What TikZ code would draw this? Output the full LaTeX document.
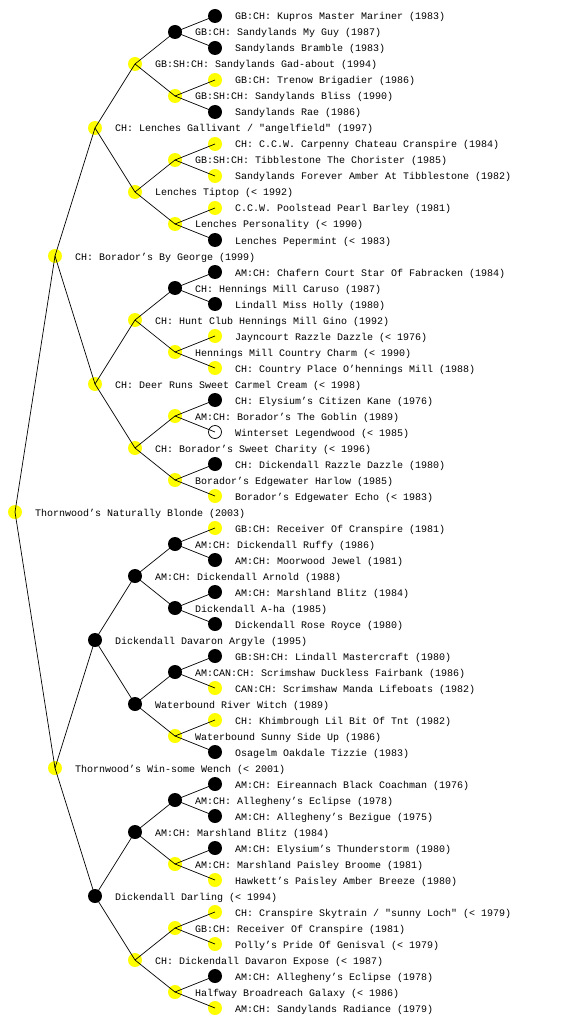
\documentclass[tikz,border=0pt]{standalone}
\usepackage{fontspec}
\setmonofont{Liberation Mono}
\definecolor{pyellow}{RGB}{255,255,0}
\tikzset{
  yn/.style={circle,fill=pyellow,minimum size=14pt,inner sep=0pt},
  bn/.style={circle,fill=black,minimum size=14pt,inner sep=0pt},
  wn/.style={circle,draw=black,fill=white,line width=0.7pt,minimum size=13pt,inner sep=0pt},
  lab/.style={anchor=base west,inner sep=0pt,font=\ttfamily\fontsize{10}{12}\selectfont},
  edge/.style={line width=0.7pt,black}
}
\newcommand\pnode[4]{\node[#3] (n#1) at (#2,{#1*16}) {}; \node[lab] (t#1) at ({#2+20},{#1*16+4}) {#4};}
\begin{document}
\begin{tikzpicture}[x=1pt,y=-1pt]
\useasboundingbox (0,0) rectangle (560,1024);
% root
\pnode{32}{15}{yn}{Thornwood’s Naturally Blonde (2003)}
% gen1
\pnode{16}{55}{yn}{CH: Borador’s By George (1999)}
\pnode{48}{55}{yn}{Thornwood’s Win-some Wench (< 2001)}
% gen2
\pnode{8}{95}{yn}{CH: Lenches Gallivant / "angelfield" (1997)}
\pnode{24}{95}{yn}{CH: Deer Runs Sweet Carmel Cream (< 1998)}
\pnode{40}{95}{bn}{Dickendall Davaron Argyle (1995)}
\pnode{56}{95}{bn}{Dickendall Darling (< 1994)}
% gen3
\pnode{4}{135}{yn}{GB:SH:CH: Sandylands Gad-about (1994)}
\pnode{12}{135}{yn}{Lenches Tiptop (< 1992)}
\pnode{20}{135}{yn}{CH: Hunt Club Hennings Mill Gino (1992)}
\pnode{28}{135}{yn}{CH: Borador’s Sweet Charity (< 1996)}
\pnode{36}{135}{bn}{AM:CH: Dickendall Arnold (1988)}
\pnode{44}{135}{bn}{Waterbound River Witch (1989)}
\pnode{52}{135}{bn}{AM:CH: Marshland Blitz (1984)}
\pnode{60}{135}{yn}{CH: Dickendall Davaron Expose (< 1987)}
% gen4
\pnode{2}{175}{bn}{GB:CH: Sandylands My Guy (1987)}
\pnode{6}{175}{yn}{GB:SH:CH: Sandylands Bliss (1990)}
\pnode{10}{175}{yn}{GB:SH:CH: Tibblestone The Chorister (1985)}
\pnode{14}{175}{yn}{Lenches Personality (< 1990)}
\pnode{18}{175}{bn}{CH: Hennings Mill Caruso (1987)}
\pnode{22}{175}{yn}{Hennings Mill Country Charm (< 1990)}
\pnode{26}{175}{yn}{AM:CH: Borador’s The Goblin (1989)}
\pnode{30}{175}{yn}{Borador’s Edgewater Harlow (1985)}
\pnode{34}{175}{bn}{AM:CH: Dickendall Ruffy (1986)}
\pnode{38}{175}{bn}{Dickendall A-ha (1985)}
\pnode{42}{175}{bn}{AM:CAN:CH: Scrimshaw Duckless Fairbank (1986)}
\pnode{46}{175}{yn}{Waterbound Sunny Side Up (1986)}
\pnode{50}{175}{bn}{AM:CH: Allegheny’s Eclipse (1978)}
\pnode{54}{175}{yn}{AM:CH: Marshland Paisley Broome (1981)}
\pnode{58}{175}{yn}{GB:CH: Receiver Of Cranspire (1981)}
\pnode{62}{175}{yn}{Halfway Broadreach Galaxy (< 1986)}
% gen5
\pnode{1}{215}{bn}{GB:CH: Kupros Master Mariner (1983)}
\pnode{3}{215}{bn}{Sandylands Bramble (1983)}
\pnode{5}{215}{yn}{GB:CH: Trenow Brigadier (1986)}
\pnode{7}{215}{bn}{Sandylands Rae (1986)}
\pnode{9}{215}{yn}{CH: C.C.W. Carpenny Chateau Cranspire (1984)}
\pnode{11}{215}{yn}{Sandylands Forever Amber At Tibblestone (1982)}
\pnode{13}{215}{yn}{C.C.W. Poolstead Pearl Barley (1981)}
\pnode{15}{215}{bn}{Lenches Pepermint (< 1983)}
\pnode{17}{215}{bn}{AM:CH: Chafern Court Star Of Fabracken (1984)}
\pnode{19}{215}{bn}{Lindall Miss Holly (1980)}
\pnode{21}{215}{yn}{Jayncourt Razzle Dazzle (< 1976)}
\pnode{23}{215}{yn}{CH: Country Place O’hennings Mill (1988)}
\pnode{25}{215}{bn}{CH: Elysium’s Citizen Kane (1976)}
\pnode{27}{215}{wn}{Winterset Legendwood (< 1985)}
\pnode{29}{215}{bn}{CH: Dickendall Razzle Dazzle (1980)}
\pnode{31}{215}{yn}{Borador’s Edgewater Echo (< 1983)}
\pnode{33}{215}{yn}{GB:CH: Receiver Of Cranspire (1981)}
\pnode{35}{215}{bn}{AM:CH: Moorwood Jewel (1981)}
\pnode{37}{215}{bn}{AM:CH: Marshland Blitz (1984)}
\pnode{39}{215}{bn}{Dickendall Rose Royce (1980)}
\pnode{41}{215}{bn}{GB:SH:CH: Lindall Mastercraft (1980)}
\pnode{43}{215}{yn}{CAN:CH: Scrimshaw Manda Lifeboats (1982)}
\pnode{45}{215}{yn}{CH: Khimbrough Lil Bit Of Tnt (1982)}
\pnode{47}{215}{bn}{Osagelm Oakdale Tizzie (1983)}
\pnode{49}{215}{bn}{AM:CH: Eireannach Black Coachman (1976)}
\pnode{51}{215}{bn}{AM:CH: Allegheny’s Bezigue (1975)}
\pnode{53}{215}{bn}{AM:CH: Elysium’s Thunderstorm (1980)}
\pnode{55}{215}{yn}{Hawkett’s Paisley Amber Breeze (1980)}
\pnode{57}{215}{yn}{CH: Cranspire Skytrain / "sunny Loch" (< 1979)}
\pnode{59}{215}{yn}{Polly’s Pride Of Genisval (< 1979)}
\pnode{61}{215}{bn}{AM:CH: Allegheny’s Eclipse (1978)}
\pnode{63}{215}{yn}{AM:CH: Sandylands Radiance (1979)}
% edges
\foreach \k/\d in {32/16,16/8,48/8,8/4,24/4,40/4,56/4,
  4/2,12/2,20/2,28/2,36/2,44/2,52/2,60/2,
  2/1,6/1,10/1,14/1,18/1,22/1,26/1,30/1,34/1,38/1,42/1,46/1,50/1,54/1,58/1,62/1}{
  \pgfmathtruncatemacro\ka{\k-\d}
  \pgfmathtruncatemacro\kb{\k+\d}
  \draw[edge] (n\k.center) -- (n\ka.center);
  \draw[edge] (n\k.center) -- (n\kb.center);
}
\end{tikzpicture}
\end{document}
